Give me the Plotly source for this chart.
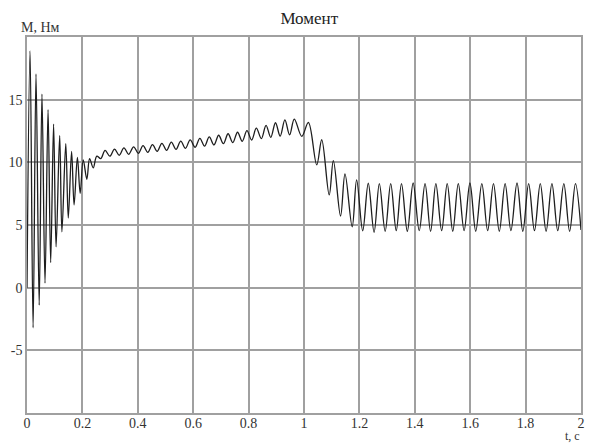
import plotly.graph_objects as go

# --- data (local extrema of the torque curve) ---
trans_t = [0.0, 0.011, 0.022, 0.0325, 0.044, 0.054, 0.065, 0.076, 0.0855, 0.096,
           0.105, 0.118, 0.126, 0.14, 0.149, 0.161, 0.17, 0.182, 0.192, 0.203,
           0.216, 0.226, 0.239, 0.252, 0.266]
trans_v = [0.0, 18.9, -3.2, 17.05, -1.4, 15.45, 0.36, 14.2, 2.0, 13.05,
           3.26, 12.15, 4.46, 11.5, 5.56, 10.87, 6.6, 10.4, 7.53, 10.2,
           8.65, 10.3, 9.56, 10.5, 10.3]

ripple_t = [0.282, 0.299, 0.316, 0.333, 0.350, 0.367, 0.385, 0.402, 0.419, 0.436,
            0.453, 0.470, 0.487, 0.504, 0.521, 0.538, 0.555, 0.572, 0.589, 0.607,
            0.624, 0.641, 0.658, 0.675, 0.692, 0.709, 0.726, 0.743, 0.760, 0.777,
            0.794, 0.811, 0.828, 0.846, 0.863, 0.880, 0.897, 0.914, 0.931, 0.948]
ripple_v = [10.95, 10.49, 11.05, 10.56, 11.15, 10.64, 11.24, 10.72, 11.33, 10.80,
            11.42, 10.88, 11.52, 10.96, 11.61, 11.04, 11.70, 11.12, 11.79, 11.20,
            11.91, 11.29, 12.03, 11.39, 12.16, 11.49, 12.28, 11.58, 12.40, 11.68,
            12.53, 11.78, 12.73, 11.89, 12.95, 11.99, 13.16, 12.09, 13.38, 12.19]

drop_t = [0.965, 0.992, 1.016, 1.046, 1.064, 1.091, 1.106, 1.132, 1.148, 1.174,
          1.19, 1.212, 1.232, 1.253, 1.272]
drop_v = [13.45, 12.07, 13.18, 9.8, 11.8, 7.4, 10.14, 5.72, 9.08, 4.86,
          8.6, 4.54, 8.33, 4.42, 8.3]

steady_t = [1.293, 1.313, 1.333, 1.352, 1.373, 1.394, 1.416, 1.437, 1.457, 1.476,
            1.497, 1.517, 1.537, 1.557, 1.578, 1.599, 1.620, 1.642, 1.663, 1.684,
            1.705, 1.726, 1.747, 1.769, 1.790, 1.811, 1.832, 1.853, 1.874, 1.895,
            1.916, 1.938, 1.959, 1.980, 2.000]
steady_v = [4.5, 8.3, 4.55, 8.3, 4.5, 8.35, 4.55, 8.3, 4.5, 8.3,
            4.55, 8.3, 4.5, 8.3, 4.55, 8.35, 4.5, 8.3, 4.55, 8.3,
            4.5, 8.3, 4.55, 8.35, 4.5, 8.3, 4.55, 8.3, 4.5, 8.3,
            4.55, 8.3, 4.5, 8.3, 4.6]

x_ticks = [0, 0.2, 0.4, 0.6, 0.8, 1.0, 1.2, 1.4, 1.6, 1.8, 2.0]
x_labels = ["0", "0.2", "0.4", "0.6", "0.8", "1", "1.2", "1.4", "1.6", "1.8", "2"]
y_ticks = [-5, 0, 5, 10, 15]
y_labels = ["-5", "0", "5", "10", "15"]

title_text = "Момент"
y_title = "M, Нм"
x_title = "t, c"

t = trans_t + ripple_t + drop_t + steady_t
v = trans_v + ripple_v + drop_v + steady_v

FONT = "Liberation Serif"
GRID = "#a0a0a0"
TXT = "#333333"

fig = go.Figure()
fig.add_trace(go.Scatter(
    x=t, y=v, mode="lines",
    line=dict(color="#1e1e1e", width=1.3, shape="spline", smoothing=1.0),
    showlegend=False, hoverinfo="skip",
))

# the page body adds an 8 px offset, so the figure is sized to fit the window
fig.update_layout(
    width=593, height=436,
    margin=dict(l=19, r=20, t=29, b=31, autoexpand=False),
    paper_bgcolor="white", plot_bgcolor="white",
    font=dict(family=FONT, size=14, color=TXT),
    title=dict(text=title_text, x=0.508, xanchor="center", y=0.977, yanchor="middle",
               font=dict(family=FONT, size=17, color="#222222")),
    showlegend=False,
)

fig.update_xaxes(
    range=[0, 2], tickvals=x_ticks, ticktext=x_labels, automargin=False,
    showgrid=True, gridcolor=GRID, gridwidth=1.5,
    showline=True, mirror=True, linecolor=GRID, linewidth=1.5,
    zeroline=False, ticks="", ticklabelstandoff=-4,
    tickfont=dict(family=FONT, size=14, color=TXT),
)
fig.update_yaxes(
    range=[-10, 20], tickvals=y_ticks, ticktext=y_labels, automargin=False,
    showgrid=True, gridcolor=GRID, gridwidth=1.5,
    showline=True, mirror=True, linecolor=GRID, linewidth=1.5,
    zeroline=False, ticks="", tickfont=dict(family=FONT, size=14, color=TXT),
)

fig.add_annotation(text=y_title, xref="paper", yref="paper", x=-0.014, y=1.0,
                   xanchor="left", yanchor="bottom", showarrow=False, yshift=0,
                   font=dict(family=FONT, size=14, color=TXT))
fig.add_annotation(text=x_title, xref="paper", yref="paper", x=1.0, y=0.0,
                   xanchor="center", yanchor="middle", showarrow=False,
                   yshift=-23, xshift=-9,
                   font=dict(family=FONT, size=12, color=TXT))

fig.write_html("out.html")
